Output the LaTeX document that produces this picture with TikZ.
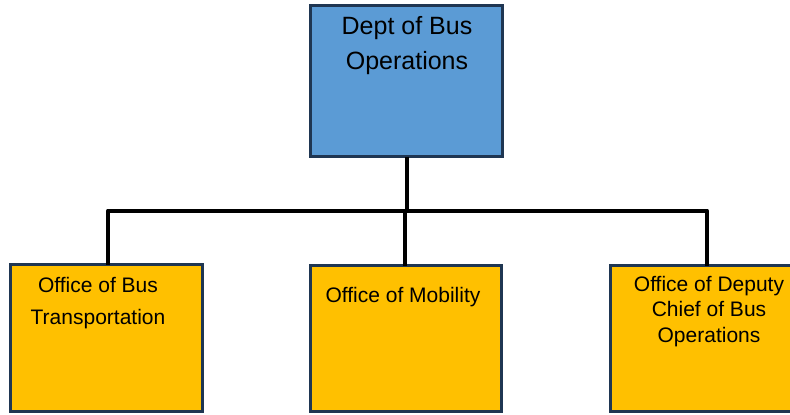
\documentclass[tikz,border=0pt]{standalone}
\usepackage{fontspec}
\setmainfont{Liberation Sans}
\definecolor{navy}{HTML}{1F3652}
\definecolor{boxblue}{HTML}{5B9BD5}
\definecolor{boxgold}{HTML}{FFC000}
\begin{document}
\begin{tikzpicture}[x=1bp,y=-1bp,
  unit/.style={draw=navy,line width=3.2bp,inner sep=0pt,outer sep=0pt,rectangle},
  conn/.style={draw=black,line width=4bp,line join=round},
  lbl/.style={anchor=base,align=center,inner sep=0pt,text=black}]
\useasboundingbox (0,0) rectangle (790,414);
\clip (0,0) rectangle (790,414);
\node[unit,fill=boxblue,minimum width=192bp,minimum height=151bp] (T) at (406.5,81) {};
\node[unit,fill=boxgold,minimum width=192bp,minimum height=147bp] (L) at (106.5,338) {};
\node[unit,fill=boxgold,minimum width=191bp,minimum height=146bp] (M) at (406,338.5) {};
\node[unit,fill=boxgold,minimum width=192bp,minimum height=146bp] (R) at (706.5,338.5) {};
\coordinate (bus) at (407,210.5);
\draw[conn] ([xshift=0.5bp]T.south) -- ([xshift=0.5bp]T.south |- bus);
\draw[conn] ([xshift=1.5bp]L.north) |- ([xshift=0.5bp]R.north |- bus) -- ([xshift=0.5bp]R.north);
\draw[conn] ([xshift=-1bp]M.north) -- ([xshift=-1bp]M.north |- bus);
\node[lbl,font=\fontsize{25bp}{35bp}\selectfont] (tT) at (407,69.3) {Dept of Bus\\Operations};
\node[lbl,font=\fontsize{21bp}{31.5bp}\selectfont] (tL) at (98,324) {Office of Bus\\Transportation};
\node[lbl,font=\fontsize{21bp}{25bp}\selectfont] (tM) at (403,302) {Office of Mobility};
\node[lbl,font=\fontsize{21bp}{25.5bp}\selectfont] (tR) at (709,342) {Office of Deputy\\Chief of Bus\\Operations};
\end{tikzpicture}
\end{document}
